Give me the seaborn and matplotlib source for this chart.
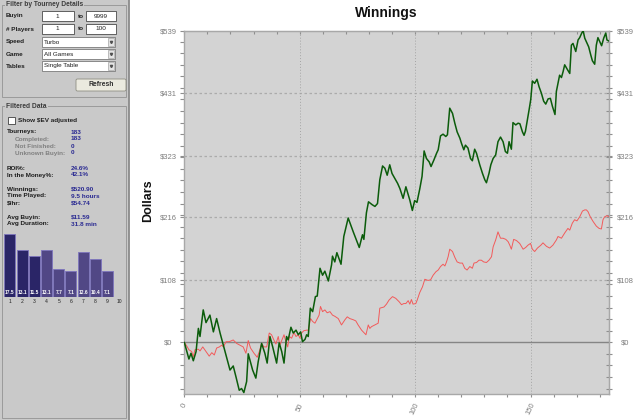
import matplotlib
matplotlib.use("Agg")
import matplotlib.pyplot as plt
from matplotlib.patches import Rectangle, FancyBboxPatch
from matplotlib.ticker import MultipleLocator
import seaborn as sns

# cumulative winnings (green line)
win_x = [0, 2.0, 2.9, 3.9, 5.1, 6.1, 6.8, 8.2, 9.4, 11.1, 12.6, 14.0, 15.5, 16.9, 18.4, 19.8,
         21.2, 22.4, 23.8, 24.8, 25.8, 27.0, 27.7, 29.6, 31.0, 32.0, 33.5, 34.9, 35.9, 37.1,
         38.3, 40.0, 41.1, 42.2, 43.2, 44.3, 45.0, 46.2, 47.2, 48.4, 49.4, 50.4, 51.2, 52.3,
         53.0, 53.7, 54.6, 55.6, 56.8, 57.6, 58.8, 59.9, 60.9, 62.4, 63.8, 64.2, 65.2, 66.1,
         67.9, 69.1, 71.0, 73.2, 75.8, 77.2, 77.8, 78.9, 79.8, 81.4, 82.6, 83.7, 84.7, 85.9,
         86.9, 87.9, 89.0, 90.0, 92.4, 93.4, 94.8, 96.0, 97.7, 98.8, 99.8, 100.8, 102.0,
         103.0, 103.9, 104.9, 106.1, 106.9, 108.1, 109.3, 110.0, 111.0, 112.1, 113.3, 114.0,
         115.0, 116.2, 117.2, 118.2, 119.4, 120.1, 121.1, 121.8, 122.9, 124.0, 124.8, 125.8,
         126.6, 128.0, 129.2, 130.2, 130.9, 132.0, 132.8, 133.8, 134.9, 135.9, 137.0, 138.1,
         139.1, 140.0, 140.7, 141.7, 142.4, 143.6, 144.6, 145.4, 146.5, 147.2, 147.8, 148.7,
         149.5, 150.1, 150.8, 151.8, 152.8, 153.7, 154.7, 155.7, 156.6, 157.6, 158.6, 159.5,
         160.6, 161.2, 161.9, 162.6, 163.4, 164.1, 164.8, 165.8, 167.0, 167.7, 168.4, 169.6,
         170.6, 171.3, 172.2, 172.8, 173.5, 174.2, 175.2, 176.1, 176.8, 177.8, 178.5, 179.2,
         180.0, 180.8, 181.7, 182.6, 183.1, 184.0]
win_y = [0, -29, -19, -32, -16, 24, 10, 56, 34, 47, 18, 41, 16, -5, -28, -48,
         -41, -60, -83, -80, -87, -68, -20, -48, -62, -34, -2, -19, -36, 10,
         -8, -36, -1, -16, -36, 10, 4, 26, 16, 21, 13, 18, 1, 5,
         13, 10, 59, 53, 79, 80, 128, 116, 123, 106, 134, 149, 139, 155,
         135, 183, 215, 191, 164, 186, 178, 224, 243, 238, 235, 240, 281, 305,
         301, 289, 307, 292, 275, 266, 249, 269, 246, 228, 245, 242, 265,
         287, 331, 318, 312, 304, 315, 327, 333, 357, 360, 356, 359,
         405, 396, 379, 364, 353, 344, 333, 341, 336, 318, 314, 334,
         327, 307, 292, 281, 276, 292, 307, 318, 324, 347, 355, 347,
         330, 327, 347, 334, 380, 376, 379, 378, 364, 358, 365, 386,
         405, 420, 452, 448, 455, 442, 431, 417, 412, 421, 422, 408,
         394, 434, 448, 462, 458, 468, 480, 473, 465, 514, 517, 503,
         523, 527, 535, 539, 526, 520, 511, 497, 487, 481, 514, 527,
         520, 513, 526, 535, 523, 521]

# second (red) line
ev_x = [0, 1.3, 2.0, 3.2, 3.9, 4.6, 6.1, 6.8, 8.0, 9.4, 10.8, 11.9, 13.0, 14.0, 15.2, 16.2,
        16.9, 18.1, 19.5, 21.2, 22.7, 24.1, 25.5, 26.7, 27.7, 28.7, 30.2, 31.6, 32.5, 33.5,
        34.5, 35.7, 36.8, 37.8, 38.8, 39.7, 40.7, 41.4, 42.2, 43.2, 44.0, 44.8, 45.5, 46.5,
        47.5, 48.4, 49.4, 50.1, 50.8, 51.8, 53.0, 53.7, 54.7, 55.6, 56.6, 57.6, 58.4, 59.0,
        59.9, 60.9, 61.9, 63.1, 64.2, 65.2, 66.7, 68.1, 69.6, 70.6, 71.7, 73.2, 74.3, 75.3,
        76.8, 78.7, 79.7, 80.4, 81.1, 82.6, 84.0, 84.7, 86.5, 87.6, 88.7, 90.2, 91.6, 93.1,
        94.1, 95.1, 96.0, 97.0, 97.7, 98.4, 99.1, 100.3, 100.9, 102.0, 103.2, 104.2, 105.6,
        106.7, 107.8, 109.0, 110.0, 111.0, 112.1, 112.9, 113.6, 114.3, 115.0, 116.2, 117.2,
        118.2, 119.4, 120.5, 121.5, 122.5, 123.7, 124.8, 125.5, 126.6, 127.7, 128.7, 129.7,
        130.9, 132.0, 133.1, 133.8, 134.9, 135.9, 137.0, 138.1, 139.3, 140.3, 141.0, 141.7,
        142.7, 143.9, 145.3, 146.8, 147.9, 148.9, 150.0, 150.8, 151.8, 153.0, 154.5, 155.4,
        156.9, 158.3, 159.7, 161.2, 161.9, 163.4, 164.8, 166.2, 167.0, 168.1, 169.1, 170.1,
        171.3, 172.5, 173.5, 174.2, 174.9, 175.9, 177.1, 178.5, 179.7, 180.7, 181.4, 182.1,
        183.1, 184.0]
ev_y = [0, -8, -13, -16, -25, -13, -12, -15, -8, -16, -24, -18, -22, -10, -8, -5,
        -8, 1, 1, 4, -2, -5, -8, -19, 3, -10, -19, -26, -16, -2,
        -8, -8, 16, 13, 4, -3, 10, -5, 3, 13, 1, -8, 10, 7,
        17, 10, 13, 7, 16, 20, 21, 21, 41, 36, 33, 41, 47, 62,
        53, 56, 51, 53, 47, 45, 41, 30, 39, 44, 41, 39, 37, 30,
        21, 13, 30, 24, 27, 30, 33, 59, 61, 66, 73, 79, 76, 70,
        65, 67, 67, 72, 66, 74, 66, 67, 73, 86, 96, 109, 107,
        108, 116, 122, 125, 131, 135, 132, 139, 148, 161, 157, 147,
        139, 137, 137, 128, 125, 131, 128, 137, 138, 142, 142, 139,
        138, 142, 148, 165, 177, 191, 180, 180, 178, 174, 168, 161,
        178, 176, 171, 161, 164, 168, 171, 161, 157, 163, 168, 172,
        166, 163, 168, 177, 183, 180, 189, 197, 194, 206, 212, 210,
        217, 227, 229, 229, 226, 217, 209, 201, 197, 196, 212, 217,
        219, 217]

y_ticks = [0, 108, 216, 323, 431, 539]
y_labels = ["$0", "$108", "$216", "$323", "$431", "$539"]
x_ticks = [0, 50, 100, 150]

# side panel content
buyin_range = ["1", "9999"]
players_range = ["1", "100"]
dropdowns = [("Speed", "Turbo"), ("Game", "All Games"), ("Tables", "Single Table")]
stat_labels = ["Tourneys:", "Completed:", "Not Finished:", "Unknown Buyin:", "ROI%:",
               "In the Money%:", "Winnings:", "Time Played:", "$/hr:", "Avg Buyin:",
               "Avg Duration:"]
stat_values = ["183", "183", "0", "0", "24.6%", "42.1%", "$520.90", "9.5 hours",
               "$54.74", "$11.59", "31.8 min"]
finish_pos = [str(i) for i in range(1, 11)]
finish_pct = [17.5, 13.1, 11.5, 13.1, 7.7, 7.1, 12.6, 10.4, 7.1, 0]

sns.set_style("ticks")
plt.rcParams["font.family"] = ["Liberation Sans", "DejaVu Sans"]

W, H = 640, 420
fig = plt.figure(figsize=(6.4, 4.2), dpi=100)
fig.patch.set_facecolor("white")

# ---------- left panel (pixel coordinates) ----------
PANEL = "#c9c9c9"
pax = fig.add_axes([0, 0, 130 / W, 1])
pax.set_xlim(0, 130)
pax.set_ylim(H, 0)
pax.axis("off")
pax.add_patch(Rectangle((0, 0), 129, H, fc=PANEL, ec="none"))
pax.plot([129.2, 129.2], [0, H], color="#8a8a8a", lw=1.3)

fs = 4.6


def group_box(y0, y1, title):
    pax.add_patch(Rectangle((1.5, y0), 124.5, y1 - y0, fill=False, ec="#9a9a9a", lw=0.7))
    pax.text(6, y0, title, fontsize=fs + 0.2, weight="bold", color="#3c3c3c",
             ha="left", va="center", bbox=dict(fc=PANEL, ec="none", pad=0.8))


group_box(5, 97, "Filter by Tourney Details")

for (label, rng), yc in zip([("Buyin", buyin_range), ("# Players", players_range)], [16, 29]):
    pax.text(6, yc, label, fontsize=fs, weight="bold", color="#202020", va="center")
    pax.add_patch(Rectangle((42, yc - 5), 31.5, 10, fc="white", ec="#4a4a4a", lw=0.6))
    pax.add_patch(Rectangle((86, yc - 5), 29.5, 10, fc="white", ec="#4a4a4a", lw=0.6))
    pax.text(57.7, yc, rng[0], fontsize=fs, color="#202020", ha="center", va="center")
    pax.text(100.7, yc, rng[1], fontsize=fs, color="#202020", ha="center", va="center")
    pax.text(77.5, yc, "to", fontsize=fs, weight="bold", color="#202020", va="center")

for (label, val), yc in zip(dropdowns, [42, 54, 66]):
    pax.text(6, yc, label, fontsize=fs, weight="bold", color="#202020", va="center")
    pax.add_patch(Rectangle((42, yc - 5), 73, 10, fc="white", ec="#7a7a7a", lw=0.6))
    pax.add_patch(Rectangle((107.5, yc - 4), 6.5, 8, fc="#e4e4e4", ec="#a6a6a6", lw=0.5))
    pax.plot([110.75], [yc + 0.3], marker="v", ms=1.6, color="#505050")
    pax.text(44, yc, val, fontsize=fs, color="#202020", va="center")

pax.add_patch(FancyBboxPatch((76, 79), 50, 12, boxstyle="round,pad=0,rounding_size=1.5",
                             fc="#ebeadf", ec="#8e8e82", lw=0.6))
pax.text(101, 85, "Refresh", fontsize=fs + 0.3, weight="bold", color="#303030",
         ha="center", va="center")

group_box(106, 418, "Filtered Data")
pax.add_patch(Rectangle((8, 117), 6.5, 6.5, fc="white", ec="#404040", lw=0.6))
pax.text(18, 120.5, "Show $EV adjusted", fontsize=fs, weight="bold", color="#202020",
         va="center")

stat_rows_y = [132, 139, 146, 153, 168, 175, 189, 196, 203, 217, 224]
for i, (lab, val) in enumerate(zip(stat_labels, stat_values)):
    sub = i in (1, 2, 3)
    pax.text(15 if sub else 7, stat_rows_y[i], lab, fontsize=fs, weight="bold",
             color="#808080" if sub else "#1c1c1c", va="center")
    pax.text(71, stat_rows_y[i], val, fontsize=fs, weight="bold", color="#2a2a92",
             va="center")

# finishing position histogram
bax = fig.add_axes([3.7 / W, (H - 296.7) / H, 122.3 / W, 71.6 / H])
bar_colors = ["#211a72"] * 3 + ["#4a3d8f"] * 7
sns.barplot(x=finish_pos, y=finish_pct, hue=finish_pos, palette=bar_colors, legend=False,
            width=0.9, edgecolor="#7d74bd", linewidth=0.6, ax=bax)
bax.set_xlim(-0.5, 9.5)
bax.set_ylim(0, 20)
bax.set_facecolor("none")
for s in bax.spines.values():
    s.set_visible(False)
bax.set_yticks([])
bax.set_xlabel("")
bax.set_ylabel("")
bax.tick_params(axis="x", length=0, pad=1.5, labelsize=3.6, labelcolor="#202020")
for i, v in enumerate(finish_pct):
    if v > 0:
        bax.text(i, 0.4, f"{v:.1f}", fontsize=3.5, weight="bold", color="white",
                 ha="center", va="bottom")

# ---------- main chart ----------
L, R, T, B = 184.3, 609.0, 30.7, 394.3
ax = fig.add_axes([L / W, 1 - B / H, (R - L) / W, (B - T) / H])
ax.set_facecolor("#d3d3d3")

ax.grid(False)
for yv in y_ticks[1:-1]:
    ax.axhline(yv, color="#ababab", lw=0.9, ls=(0, (2, 2)), zorder=0.5)
for xv in x_ticks[1:]:
    ax.axvline(xv, color="#a4a4a4", lw=0.7, ls=(0, (1, 2)), zorder=0.5)
ax.axhline(0, color="#858585", lw=1.0, zorder=1)

sns.lineplot(x=ev_x, y=ev_y, color="#f25a5a", lw=0.7, ax=ax, zorder=3)
sns.lineplot(x=win_x, y=win_y, color="#0b5c0b", lw=1.1, ax=ax, zorder=4)

ax.set_xlim(0, 184)
ax.set_ylim(-90, 539)
ax.set_xlabel("")
ax.set_ylabel("")

tick_col = "#8e8e8e"
lab_col = "#7e7e7e"
for s in ax.spines.values():
    s.set_color("#a8a8a8")
    s.set_linewidth(1.0)

ax.set_xticks(x_ticks, [str(v) for v in x_ticks])
ax.xaxis.set_minor_locator(MultipleLocator(10))
ax.tick_params(axis="x", which="both", direction="out", length=2.3, width=0.8,
               color=tick_col, labelsize=5.5, labelcolor=lab_col, pad=3.2)
for t in ax.get_xticklabels():
    t.set_rotation(65)
    t.set_ha("center")
    t.set_va("top")

ax.set_yticks(y_ticks, y_labels)
ax.yaxis.set_minor_locator(MultipleLocator(20))
ax.tick_params(axis="y", which="both", direction="out", length=3, width=0.8,
               color=tick_col, labelsize=5.5, labelcolor=lab_col, pad=8.7)
for t in ax.get_yticklabels():
    t.set_ha("center")

top = ax.secondary_xaxis("top")
top.set_xticks(x_ticks, ["" for _ in x_ticks])
top.xaxis.set_minor_locator(MultipleLocator(10))
top.tick_params(axis="x", which="both", direction="in", length=2.3, width=0.8,
                color=tick_col)
top.spines["top"].set_color("#a8a8a8")

right = ax.secondary_yaxis("right")
right.set_yticks(y_ticks, y_labels)
right.yaxis.set_minor_locator(MultipleLocator(20))
right.tick_params(axis="y", which="both", direction="inout", length=4, width=0.8,
                  color=tick_col, labelsize=5.5, labelcolor=lab_col, pad=9.9)
for t in right.get_yticklabels():
    t.set_ha("center")
right.spines["right"].set_color("#a8a8a8")

fig.text(386.5 / W, 1 - 12.7 / H, "Winnings", fontsize=10, weight="bold",
         color="#111111", ha="center", va="center")
fig.text(148 / W, 1 - 201 / H, "Dollars", fontsize=9, weight="bold", color="#111111",
         rotation=90, ha="center", va="center")

fig.savefig("out.png", dpi=100, facecolor="white")
